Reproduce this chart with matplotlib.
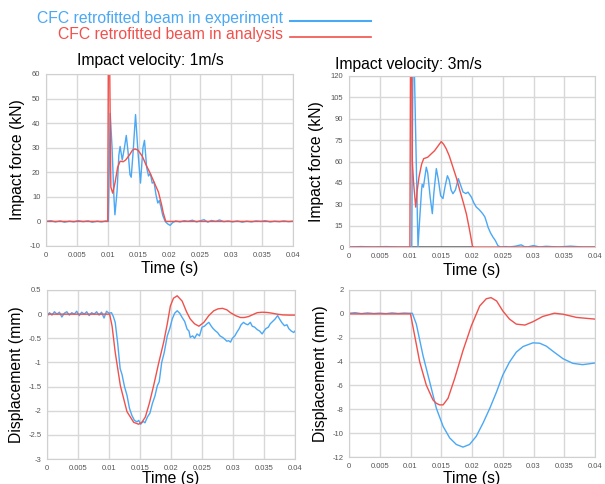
import matplotlib
matplotlib.use("Agg")
import matplotlib.pyplot as plt

plt.rcParams['font.family'] = ['Liberation Sans', 'DejaVu Sans']

BLUE = '#4aa8f5'
RED = '#f0514c'

# ---------------- data ----------------
x_ticks = [0, 0.005, 0.01, 0.015, 0.02, 0.025, 0.03, 0.035, 0.04]
x_tick_labels = ["0", "0.005", "0.01", "0.015", "0.02", "0.025", "0.03", "0.035", "0.04"]

# Top-left: impact force, 1 m/s
tl_exp_t = [0, 0.0008, 0.0015, 0.0023, 0.003, 0.0038, 0.0045, 0.0052, 0.006, 0.0068, 0.0075, 0.0083,
            0.009, 0.0097, 0.0101, 0.0104, 0.0107, 0.0110, 0.01116, 0.0115, 0.0118, 0.0120, 0.01235,
            0.0127, 0.0130, 0.0133, 0.0136, 0.0138, 0.0141, 0.0145, 0.0149, 0.0153, 0.0157, 0.01595,
            0.0163, 0.0166, 0.0169, 0.0172, 0.0175, 0.0178, 0.0181, 0.01835, 0.0186, 0.0189, 0.0193,
            0.0197, 0.0201, 0.0205, 0.021, 0.0217, 0.0224, 0.023, 0.0237, 0.0244, 0.025, 0.0256,
            0.0262, 0.0268, 0.0275, 0.0281, 0.0288, 0.0295, 0.0302, 0.031, 0.0318, 0.0325, 0.0333,
            0.034, 0.0348, 0.0355, 0.0363, 0.037, 0.0378, 0.0385, 0.0393, 0.04]
tl_exp_f = [0, 0.3, -0.2, 0.2, -0.3, 0.1, -0.2, 0.3, -0.1, 0.2, -0.3, 0.1,
            -0.2, 0.2, 0, 44, 30, 10, 2.7, 12, 27, 30.5, 25,
            30, 35, 28, 19, 18, 28, 43.5, 28, 15.6, 30, 33,
            22, 18.5, 19.5, 15.6, 16, 11, 7.5, 8.5, 6, 2.5, 0,
            -1, -1.6, -0.5, 0.2, -0.2, 0.3, 0, 0.5, -0.2, 0.3, 0.7,
            -0.3, 0.4, 0, 0.6, -0.1, 0.2, -0.2, 0.2, -0.3, 0.1, -0.2,
            0.2, 0.0, 0.3, -0.2, 0.1, -0.1, 0.2, -0.1, 0.1]
tl_ana_t = [0, 0.0100, 0.01012, 0.01025, 0.0105, 0.0108, 0.0112, 0.0116, 0.0120, 0.0125, 0.0129,
            0.0135, 0.0140, 0.0144, 0.0149, 0.0156, 0.0162, 0.0168, 0.0175, 0.0182, 0.0187,
            0.0190, 0.0194, 0.04]
tl_ana_f = [0, 0, 80, 80, 14, 11.5, 16, 22, 24.5, 24.3, 25,
            27, 29, 29.5, 29, 26.5, 23, 20, 16, 12, 7,
            3.4, 0, 0]

# Top-right: impact force, 3 m/s
tr_exp_t = [0, 0.002, 0.004, 0.006, 0.008, 0.0102, 0.0104, 0.0106, 0.01122, 0.0115, 0.0118, 0.0119,
            0.0121, 0.0123, 0.01257, 0.0128, 0.0132, 0.01355, 0.0138, 0.0142, 0.0145, 0.0149,
            0.01528, 0.0156, 0.016, 0.0163, 0.0166, 0.0169, 0.0173, 0.01778, 0.0181, 0.01854,
            0.019, 0.01935, 0.0199, 0.0203, 0.0207, 0.0211, 0.0215, 0.0218, 0.0221, 0.0224,
            0.0226, 0.023, 0.0234, 0.0238, 0.0242, 0.0246, 0.0255, 0.026, 0.027, 0.028, 0.0285,
            0.029, 0.030, 0.031, 0.032, 0.034, 0.036, 0.038, 0.04]
tr_exp_f = [0, 0.3, 0, 0.3, 0, 0, 130, 130, 0, 20, 40, 44,
            42, 48, 56, 52, 35, 23.4, 38, 55, 48, 36,
            34, 42, 50, 47, 40, 37.4, 40, 48, 44, 38.6,
            37.5, 38.5, 35, 31, 28, 26.5, 24.6, 23, 21, 17,
            14, 10, 7, 4.5, 1, 0, 0.3, 0, 0.5, 1.5, 0.3,
            0, 1, 0, 0.5, 0, 0.6, 0, 0]
tr_ana_t = [0, 0.0099, 0.0100, 0.0102, 0.0103, 0.0105, 0.01085, 0.0111, 0.01138, 0.0118, 0.01214,
            0.0128, 0.0134, 0.0139, 0.0145, 0.0150, 0.0154, 0.0158, 0.0163, 0.0169, 0.0175,
            0.0180, 0.0186, 0.0191, 0.0196, 0.0201, 0.04]
tr_ana_f = [0, 0, 130, 130, 60, 45, 28, 40, 49, 58, 62,
            63, 65.5, 67.5, 71, 74, 72, 69, 64, 56, 48,
            40, 31, 23, 12, 0, 0]
tr_base_t = [0.0100, 0.0202]
tr_base_f = [0, 0]

# Bottom-left: displacement, 1 m/s
bl_exp_t = [0, 0.0004, 0.0008, 0.0012, 0.0016, 0.002, 0.0024, 0.0028, 0.0032, 0.0036, 0.004, 0.0044,
            0.0048, 0.0052, 0.0056, 0.006, 0.0064, 0.0068, 0.0072, 0.0076, 0.008, 0.0084, 0.0088,
            0.0092, 0.0096, 0.01, 0.0104, 0.0107, 0.011, 0.0114, 0.0118, 0.0121, 0.0125, 0.0129,
            0.0133, 0.0137, 0.0141, 0.01452, 0.0148, 0.0151, 0.0155, 0.0158, 0.0162, 0.0166, 0.017,
            0.0174, 0.0178, 0.0181, 0.0185, 0.0189, 0.0194, 0.0198, 0.0202, 0.0206, 0.021, 0.0214,
            0.0218, 0.0222, 0.0226, 0.0229, 0.0231, 0.0235, 0.0238, 0.0242, 0.0246, 0.025, 0.0254,
            0.0258, 0.0261, 0.0265, 0.0268, 0.0272, 0.0275, 0.0279, 0.0283, 0.0286, 0.029, 0.0293,
            0.0296, 0.0299, 0.0303, 0.0306, 0.031, 0.0313, 0.0317, 0.032, 0.0324, 0.0328, 0.0331,
            0.0335, 0.0339, 0.0343, 0.0347, 0.035, 0.0353, 0.0357, 0.036, 0.0364, 0.0368, 0.0372,
            0.0375, 0.0379, 0.0383, 0.0387, 0.039, 0.0394, 0.0398, 0.04]
bl_exp_d = [-0.05, 0.03, -0.02, 0.05, 0.0, 0.04, -0.06, 0.02, 0.05, -0.02, 0.03, 0.0,
            0.06, -0.03, 0.04, 0.0, 0.05, -0.03, 0.03, 0.0, 0.05, -0.02, 0.04,
            -0.08, 0.06, 0.02, 0.03, -0.05, -0.17, -0.6, -1.13, -1.25, -1.5, -1.68,
            -1.95, -2.1, -2.2, -2.23, -2.2, -2.28, -2.22, -2.25, -2.13, -2.05, -1.85,
            -1.7, -1.48, -1.4, -1.0, -0.8, -0.45, -0.3, -0.1, 0.02, 0.07, 0.02,
            -0.07, -0.15, -0.31, -0.35, -0.48, -0.45, -0.5, -0.41, -0.45, -0.27, -0.25,
            -0.2, -0.17, -0.25, -0.3, -0.35, -0.38, -0.45, -0.48, -0.51, -0.56, -0.55,
            -0.58, -0.5, -0.45, -0.38, -0.3, -0.22, -0.17, -0.2, -0.22, -0.17, -0.25,
            -0.27, -0.32, -0.35, -0.41, -0.35, -0.3, -0.27, -0.2, -0.15, -0.1, -0.03,
            -0.1, -0.18, -0.24, -0.22, -0.3, -0.35, -0.38, -0.35]
bl_ana_t = [0, 0.0101, 0.0105, 0.011, 0.01183, 0.0129, 0.01398, 0.01478, 0.0153, 0.01586, 0.0165,
            0.0172, 0.018, 0.01882, 0.0194, 0.0199, 0.0204, 0.021, 0.0218, 0.0225, 0.0231, 0.0238,
            0.0245, 0.0253, 0.0261, 0.0269, 0.0276, 0.0283, 0.029, 0.0296, 0.0304, 0.0312, 0.0318,
            0.0325, 0.0332, 0.0339, 0.0347, 0.0355, 0.0363, 0.0371, 0.038, 0.039, 0.04]
bl_ana_d = [0, 0, -0.25, -0.79, -1.48, -2.02, -2.24, -2.28, -2.24, -2.13, -1.85,
            -1.48, -1.02, -0.58, -0.2, 0.17, 0.33, 0.38, 0.27, 0.05, -0.1, -0.2,
            -0.25, -0.17, -0.03, 0.07, 0.11, 0.12, 0.09, 0.03, -0.03, -0.07, -0.07,
            -0.05, -0.01, 0.03, 0.04, 0.035, 0.02, 0, -0.015, -0.02, -0.02]

# Bottom-right: displacement, 3 m/s
br_exp_t = [0, 0.001, 0.002, 0.003, 0.004, 0.005, 0.006, 0.007, 0.008, 0.009, 0.0098, 0.0103,
            0.01095, 0.01203, 0.01312, 0.0142, 0.0153, 0.01637, 0.01745, 0.01854, 0.0196, 0.0207,
            0.0218, 0.0229, 0.024, 0.025, 0.0261, 0.0272, 0.0283, 0.0299, 0.031, 0.0321, 0.0332,
            0.0348, 0.0364, 0.038, 0.04]
br_exp_d = [0.05, 0.1, 0.02, 0.08, 0.03, 0.06, 0.02, 0.08, 0.03, 0.07, 0.05, 0.05,
            -0.86, -3.49, -5.7, -7.91, -9.43, -10.4, -10.95, -11.17, -10.95, -10.26,
            -9.15, -7.91, -6.53, -5.14, -4.04, -3.21, -2.74, -2.43, -2.46, -2.71, -3.15,
            -3.76, -4.15, -4.26, -4.12]
br_ana_t = [0, 0.01, 0.01068, 0.0115, 0.01257, 0.01366, 0.0142, 0.01474, 0.0153, 0.0161, 0.01718,
            0.01854, 0.0199, 0.02125, 0.02233, 0.0231, 0.024, 0.025, 0.0261, 0.0272, 0.0286,
            0.0299, 0.0315, 0.0334, 0.0348, 0.037, 0.04]
br_ana_d = [0, 0, -1.83, -4.04, -5.98, -7.22, -7.5, -7.63, -7.63, -7.08, -5.42,
            -3.07, -1.0, 0.66, 1.27, 1.36, 1.08, 0.25, -0.44, -0.86, -0.94,
            -0.66, -0.22, 0.055, -0.03, -0.3, -0.44]

tl_yticks = [60, 50, 40, 30, 20, 10, 0, -10]
tr_yticks = [120, 105, 90, 75, 60, 45, 30, 15, 0]
bl_yticks = [0.5, 0, -0.5, -1, -1.5, -2, -2.5, -3]
br_yticks = [2, 0, -2, -4, -6, -8, -10, -12]

legend_labels = ["CFC retrofitted beam in experiment", "CFC retrofitted beam in analysis"]
titles = ["Impact velocity: 1m/s", "Impact velocity: 3m/s"]

# ---------------- figure ----------------
W, H = 605, 484
fig = plt.figure(figsize=(W / 100, H / 100), dpi=100)
FS = 11.3


def px_axes(x0, y0, x1, y1):
    return fig.add_axes([x0 / W, 1 - y1 / H, (x1 - x0) / W, (y1 - y0) / H])


def style(ax, yticks, ylabel, ylim, w, h, ylab_dx, xlab_dy):
    ax.set_xlim(0, 0.04)
    ax.set_ylim(*ylim)
    ax.set_xticks(x_ticks)
    ax.set_xticklabels(x_tick_labels)
    ax.set_yticks(yticks)
    ax.set_yticklabels([f"{v:g}" for v in yticks])
    ax.tick_params(length=0, labelsize=5.5, labelcolor='#555555', pad=4)
    ax.grid(True, color='#d8d8d8', linewidth=1.0)
    ax.set_axisbelow(True)
    for s in ax.spines.values():
        s.set_color('#d0d0d0')
        s.set_linewidth(0.8)
    ax.set_ylabel(ylabel, fontsize=FS, va='center')
    ax.yaxis.set_label_coords(-ylab_dx / w, 0.5)
    ax.set_xlabel("Time (s)", fontsize=FS, va='center')
    ax.xaxis.set_label_coords(0.5, -xlab_dy / h)


ax1 = px_axes(46, 74, 293, 246)
ax1.plot(tl_exp_t, tl_exp_f, color=BLUE, lw=1.0)
ax1.plot(tl_ana_t, tl_ana_f, color=RED, lw=1.0)
style(ax1, tl_yticks, "Impact force (kN)", (-10, 60), 247, 172, 28, 22)

ax2 = px_axes(349, 76, 595, 247)
ax2.plot(tr_base_t, tr_base_f, color='#666666', lw=1.2)
ax2.plot(tr_exp_t, tr_exp_f, color=BLUE, lw=1.0)
ax2.plot(tr_ana_t, tr_ana_f, color=RED, lw=1.0)
style(ax2, tr_yticks, "Impact force (kN)", (0, 120), 246, 171, 32, 23)

ax3 = px_axes(47, 290, 295, 459)
ax3.plot(bl_exp_t, bl_exp_d, color=BLUE, lw=1.0)
ax3.plot(bl_ana_t, bl_ana_d, color=RED, lw=1.0)
style(ax3, bl_yticks, "Displacement (mm)", (-3, 0.5), 248, 169, 30, 19)

ax4 = px_axes(349, 290, 595, 457)
ax4.plot(br_exp_t, br_exp_d, color=BLUE, lw=1.0)
ax4.plot(br_ana_t, br_ana_d, color=RED, lw=1.0)
style(ax4, br_yticks, "Displacement (mm)", (-12, 2), 246, 167, 28, 21)

# titles
fig.text(150 / W, 1 - 61 / H, titles[0], ha='center', va='center', fontsize=FS)
fig.text(408 / W, 1 - 64 / H, titles[1], ha='center', va='center', fontsize=FS)

# legend (text + line samples)
fig.text(283 / W, 1 - 18 / H, legend_labels[0], ha='right', va='center', fontsize=FS, color=BLUE)
fig.text(283 / W, 1 - 35 / H, legend_labels[1], ha='right', va='center', fontsize=FS, color=RED)
fig.lines.append(plt.Line2D([290 / W, 371 / W], [1 - 21 / H, 1 - 21 / H], color=BLUE, lw=1.5,
                            transform=fig.transFigure))
fig.lines.append(plt.Line2D([290 / W, 371 / W], [1 - 37 / H, 1 - 37 / H], color=RED, lw=1.2,
                            transform=fig.transFigure))

fig.savefig("out.png", dpi=100)
